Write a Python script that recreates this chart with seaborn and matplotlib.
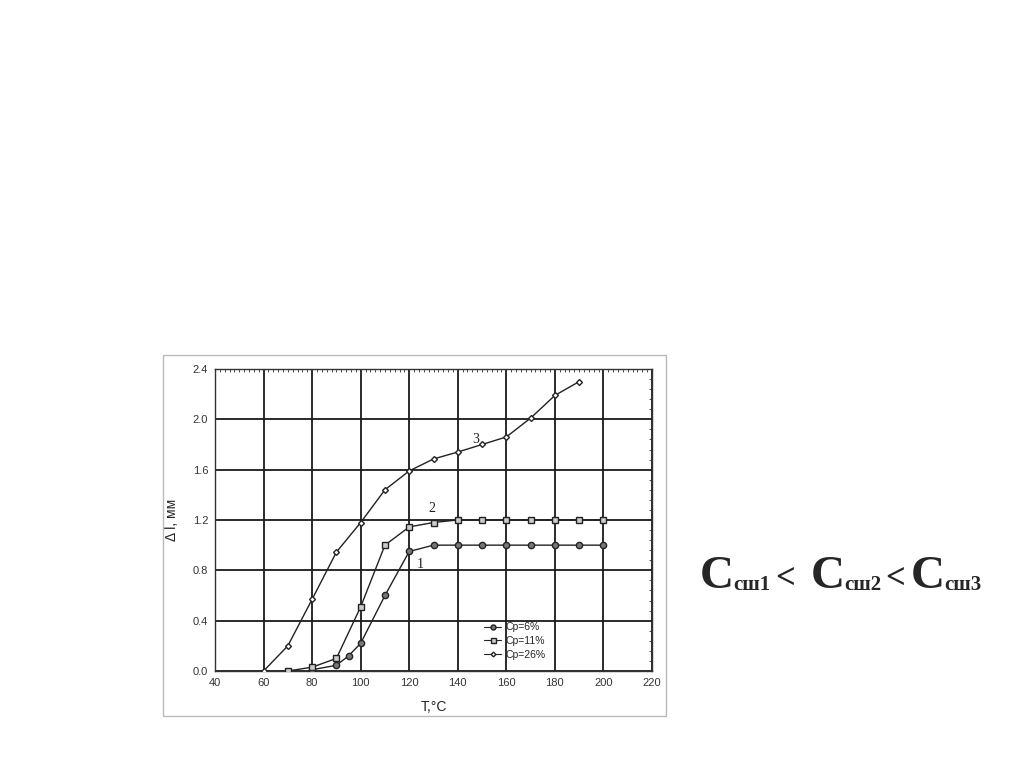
import pandas as pd
import matplotlib
matplotlib.use("Agg")
import matplotlib.pyplot as plt
from matplotlib.lines import Line2D
from matplotlib.patches import Rectangle
import seaborn as sns

# --- data ---
t_1 = [80, 90, 95, 100, 110, 120, 130, 140, 150, 160, 170, 180, 190, 200]
dl_1 = [0.01, 0.045, 0.12, 0.22, 0.60, 0.95, 1.0, 1.0, 1.0, 1.0, 1.0, 1.0, 1.0, 1.0]

t_2 = [70, 80, 90, 100, 110, 120, 130, 140, 150, 160, 170, 180, 190, 200]
dl_2 = [0.0, 0.03, 0.10, 0.51, 1.0, 1.145, 1.18, 1.2, 1.2, 1.2, 1.2, 1.2, 1.2, 1.2]

t_3 = [60, 70, 80, 90, 100, 110, 120, 130, 140, 150, 160, 170, 180, 190]
dl_3 = [0.0, 0.20, 0.57, 0.945, 1.18, 1.44, 1.59, 1.685, 1.74, 1.80, 1.86, 2.01, 2.19, 2.30]

series_names = ["Cp=6%", "Cp=11%", "Cp=26%"]
curve_tags = ["1", "2", "3"]

df = pd.concat([
    pd.DataFrame({"T": t_1, "dl": dl_1, "series": series_names[0]}),
    pd.DataFrame({"T": t_2, "dl": dl_2, "series": series_names[1]}),
    pd.DataFrame({"T": t_3, "dl": dl_3, "series": series_names[2]}),
])

sns.set_style("white")
plt.rcParams["font.family"] = ["Liberation Sans", "DejaVu Sans"]

fig = plt.figure(figsize=(10.24, 7.67), dpi=100)
ax = fig.add_axes([0.21, 0.1252, 0.4267, 0.3937])

marker_map = {series_names[0]: "o", series_names[1]: "s", series_names[2]: "D"}
face = ["#777777", "#cccccc", "white"]
sizes = [4.5, 4.5, 3.0]

sns.lineplot(data=df, x="T", y="dl", hue="series", style="series",
             markers=marker_map, dashes=False, palette=["#222222"] * 3,
             linewidth=1.0, estimator=None, sort=False, legend=False, ax=ax)

for ln, fc, ms in zip(ax.lines, face, sizes):
    ln.set_markerfacecolor(fc)
    ln.set_markeredgecolor("#222222")
    ln.set_markersize(ms)
    ln.set_markeredgewidth(1.0)
    ln.set_zorder(3)

ax.set_xlim(40, 220)
ax.set_ylim(0, 2.4)
ax.set_xticks(range(40, 221, 20))
ax.set_yticks([0.0, 0.4, 0.8, 1.2, 1.6, 2.0, 2.4])
ax.set_yticklabels(["0.0", "0.4", "0.8", "1.2", "1.6", "2.0", "2.4"])
ax.set_xticks(range(40, 221, 2), minor=True)
ax.set_yticks([i * 0.08 for i in range(31)], minor=True)
ax.grid(True, which="major", color="#1a1a1a", linewidth=1.3)
ax.tick_params(which="both", direction="in", top=True, right=True,
               labelsize=8, labelcolor="#333333", color="#333333")
ax.tick_params(which="major", length=0, pad=5)
ax.tick_params(which="minor", length=2.5, width=0.6)
for s in ax.spines.values():
    s.set_color("#333333")
    s.set_linewidth(1.0)

ax.set_xlabel("T,°C", fontsize=10, color="#222222", labelpad=9)
ax.set_ylabel("Δ l, мм", fontsize=10, color="#222222", labelpad=10)

# curve numbers
tag_pos = [(123, 0.82), (128, 1.26), (146, 1.81)]
for tag, (x, y) in zip(curve_tags, tag_pos):
    ax.text(x, y, tag, fontsize=10, family="Liberation Serif", color="#222222")

handles = [Line2D([], [], color="#222222", lw=0.8, marker=marker_map[n],
                  markerfacecolor=fc, markeredgecolor="#222222", markersize=ms * 0.8)
           for n, fc, ms in zip(series_names, face, sizes)]
ax.legend(handles, series_names, loc="upper left", bbox_to_anchor=(0.6, 0.185),
          frameon=False, fontsize=7.5, handlelength=1.6, labelspacing=0.35,
          handletextpad=0.4, borderpad=0.2)

# light frame of the pasted picture
fig.patches.append(Rectangle((163 / 1024, 1 - 716 / 767), (666 - 163) / 1024, (716 - 355) / 767,
                             transform=fig.transFigure, fill=False,
                             edgecolor="#bbbbbb", linewidth=1.0))

# right-hand text: C_сш1 < C_сш2 < C_сш3  (text, size, left px, baseline shift px)
pieces = [("C", 34, 700, 0), ("сш1", 15, 733, -2), ("<", 25, 775, 0),
          ("C", 34, 811, 0), ("сш2", 15, 844, -2), ("<", 25, 885, 0),
          ("C", 34, 911, 0), ("сш3", 15, 944, -2)]
base_px = 767 - 588
for txt, size, x_px, dy in pieces:
    fig.text(x_px / 1024, (base_px + dy) / 767, txt, fontsize=size,
             family="Liberation Serif", weight="bold", va="baseline", ha="left")

fig.savefig("out.png", dpi=100, facecolor="white")
